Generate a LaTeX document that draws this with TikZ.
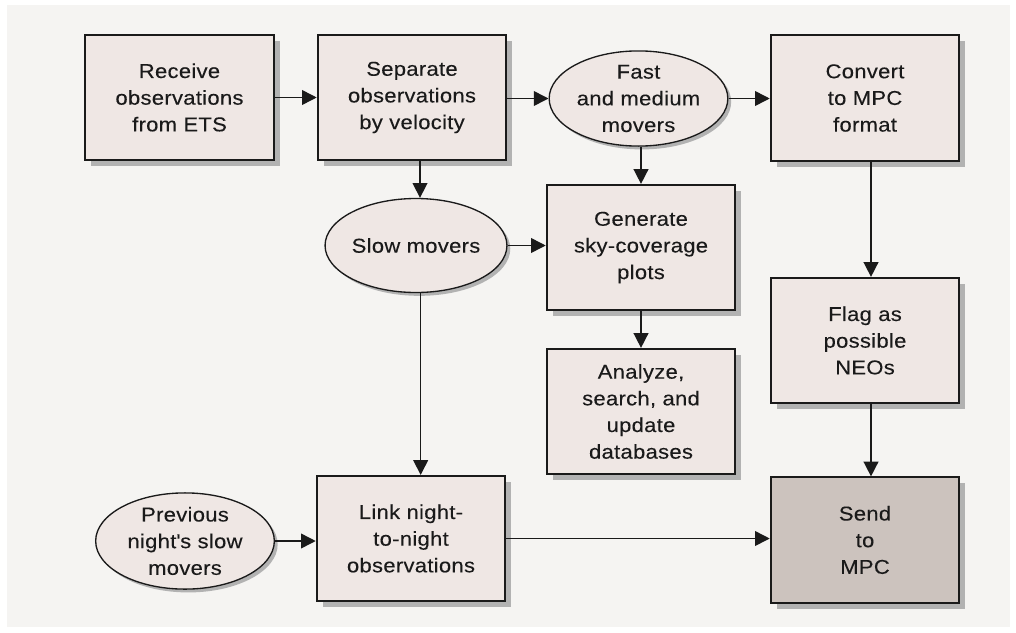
\documentclass[tikz,border=0pt]{standalone}
\usepackage{fontspec}
\setmainfont[FakeStretch=1.1,LetterSpace=1.5,FakeBold=0.15]{Liberation Sans}
\usetikzlibrary{shapes.geometric,shadows,arrows.meta}
\definecolor{panel}{HTML}{F5F4F2}
\definecolor{boxfill}{HTML}{EFE7E4}
\definecolor{sendfill}{HTML}{CCC3BE}
\definecolor{shadowc}{HTML}{B2B2B2}
\definecolor{ink}{HTML}{1A1A1A}
\tikzset{
  every node/.style={font=\fontsize{15}{20}\selectfont, text=ink, align=center},
  procbox/.style={rectangle, draw=ink, line width=1.4pt, fill=boxfill,
    minimum width=141.5pt, minimum height=94pt, inner sep=0pt,
    drop shadow={shadow xshift=4.5pt, shadow yshift=-4.5pt, fill=shadowc, opacity=1}},
  sendbox/.style={procbox, fill=sendfill},
  dataell/.style={ellipse, draw=ink, line width=1pt, fill=boxfill,
    minimum width=134pt, minimum height=70.5pt, inner sep=0pt,
    drop shadow={shadow xshift=2.5pt, shadow yshift=-2.5pt, fill=shadowc, opacity=1}},
  flow/.style={draw=ink, line width=1.15pt, -{Triangle[length=11pt,width=11pt]}}
}
\begin{document}
\begin{tikzpicture}[x=0.75pt,y=-0.75pt]
\useasboundingbox (0,0) rectangle (1016,632);
\fill[white] (0,0) rectangle (1016,632);
\fill[panel] (7,5) rectangle (1010,627);
\node[procbox] (rec) at (179.5,97.5) {Receive\\observations\\from ETS};
\node[procbox] (sep) at (412,97.5) {Separate\\observations\\by velocity};
\node[dataell] (fast) at (638.5,98.5) {Fast\\and medium\\movers};
\node[procbox] (conv) at (865,98) {Convert\\to MPC\\format};
\node[dataell] (slow) at (416,245.5) {Slow movers};
\node[procbox] (gen) at (641,247.5) {Generate\\sky-coverage\\plots};
\node[procbox] (ana) at (641,411.5) {Analyze,\\search, and\\update\\databases};
\node[procbox] (flag) at (865,340.5) {Flag as\\possible\\NEOs};
\node[dataell] (prev) at (185,541) {Previous\\night\textquotesingle s slow\\movers};
\node[procbox] (link) at (411,538.5) {Link night-\\to-night\\observations};
\node[sendbox] (send) at (865,540) {Send\\to\\MPC};
\draw[flow] (rec) -- (sep);
\draw[flow] (sep.east) -- (sep.east |- fast.west) -- (fast.west);
\draw[flow] (fast.east) -- (fast.east -| conv.west);
\draw[flow] ([xshift=6pt]sep.south) -- ([xshift=6pt]sep.south |- slow.north);
\draw[flow] (fast.south -| gen.north) -- (gen.north);
\draw[flow] (slow.east) -- (slow.east -| gen.west);
\draw[flow] (gen) -- (ana);
\draw[flow] ([xshift=4.5pt]conv.south) -- ([xshift=4.5pt]flag.north);
\draw[flow] ([xshift=4.5pt]flag.south) -- ([xshift=4.5pt]send.north);
\draw[flow] ([xshift=3.5pt]slow.south) -- ([xshift=3.5pt]slow.south |- link.north);
\draw[flow] (prev.east) -- (prev.east -| link.west);
\draw[flow] (link.east) -- (link.east -| send.west);
\end{tikzpicture}
\end{document}
